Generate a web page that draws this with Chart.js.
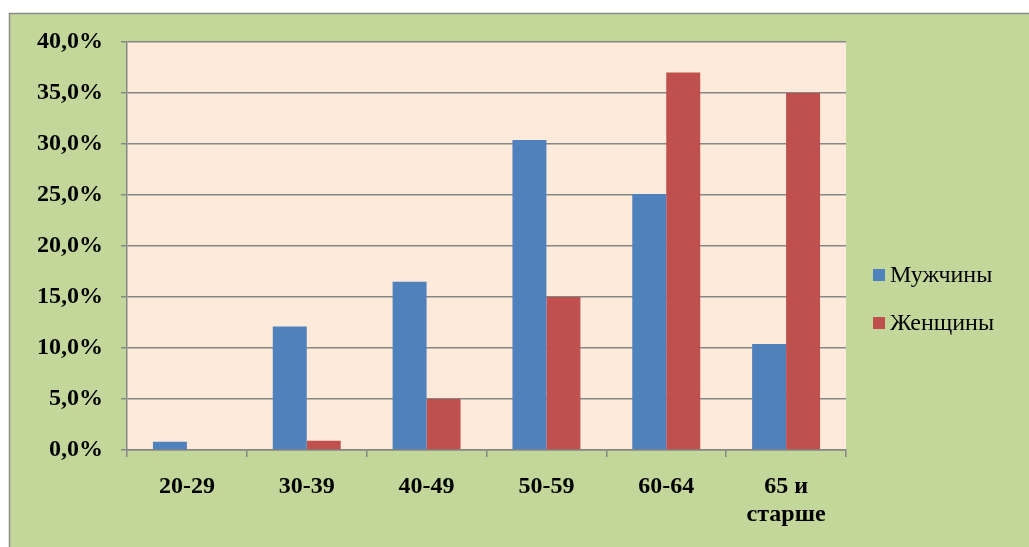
<!DOCTYPE html>
<html>
<head>
<meta charset="utf-8">
<script src="https://cdn.jsdelivr.net/npm/chart.js@4"></script>
<style>
  html, body { margin: 0; padding: 0; background: #ffffff; }
  #wrap { width: 1029px; height: 547px; position: relative; }
</style>
</head>
<body>
<div id="wrap"><canvas id="c" width="1029" height="547"></canvas></div>
<script>
// Age groups and share of each group, percent
const categories = ['20-29', '30-39', '40-49', '50-59', '60-64', ['65 и', 'старше']];
const men   = [0.8, 12.1, 16.5, 30.4, 25.1, 10.4];
const women = [0,   0.9,  5.0,  15.0, 37.0, 35.0];
const seriesNames = ['Мужчины', 'Женщины'];
const yTicks = { min: 0, max: 40, step: 5 };

const BLUE = '#4F81BD';
const RED = '#C0504D';
const GRID = '#868686';
const SERIF = '"Liberation Serif", "Times New Roman", serif';

// Outer green panel and the peach plot area
const backgroundPlugin = {
  id: 'panels',
  beforeDraw(chart) {
    const { ctx, chartArea: a } = chart;
    ctx.save();
    ctx.fillStyle = '#ffffff';
    ctx.fillRect(0, 0, chart.width, chart.height);
    ctx.fillStyle = '#C4D79B';
    ctx.fillRect(9, 13, chart.width, chart.height);
    ctx.strokeStyle = '#8a8a8a';
    ctx.lineWidth = 1.5;
    ctx.beginPath();
    ctx.moveTo(9.5, chart.height + 2);
    ctx.lineTo(9.5, 13.5);
    ctx.lineTo(chart.width + 2, 13.5);
    ctx.stroke();
    ctx.fillStyle = '#FDEADA';
    ctx.fillRect(a.left, a.top, a.right - a.left, a.bottom - a.top);
    ctx.restore();
  }
};

// Legend at the right side of the panel
const legendPlugin = {
  id: 'sideLegend',
  afterDraw(chart) {
    const { ctx } = chart;
    ctx.save();
    ctx.font = '24px ' + SERIF;
    ctx.textBaseline = 'middle';
    chart.data.datasets.forEach((ds, i) => {
      const cy = 275 + i * 48;
      ctx.fillStyle = ds.backgroundColor;
      ctx.fillRect(873, cy - 6, 12, 12);
      ctx.fillStyle = '#000000';
      ctx.fillText(ds.label, 890, cy + 1);
    });
    ctx.restore();
  }
};

new Chart(document.getElementById('c'), {
  type: 'bar',
  data: {
    labels: categories,
    datasets: [
      { label: seriesNames[0], data: men, backgroundColor: BLUE },
      { label: seriesNames[1], data: women, backgroundColor: RED }
    ]
  },
  options: {
    responsive: false,
    animation: false,
    layout: { padding: { left: 0, right: 183, top: 42, bottom: 0 } },
    datasets: { bar: { categoryPercentage: 0.567, barPercentage: 1.0 } },
    plugins: { legend: { display: false }, tooltip: { enabled: false } },
    scales: {
      x: {
        grid: { display: true, drawOnChartArea: false, drawTicks: true, tickLength: 7, color: GRID, lineWidth: 1.5, offset: true },
        border: { display: true, color: GRID, width: 1.5 },
        ticks: { color: '#000', font: { family: SERIF, size: 24, weight: 'bold', lineHeight: 1.2 }, padding: 15, maxRotation: 0, autoSkip: false },
        afterFit(scale) { scale.height = 97; }
      },
      y: {
        min: yTicks.min, max: yTicks.max,
        grid: { color: GRID, lineWidth: 1.5, tickLength: 6 },
        border: { display: true, color: GRID, width: 1.5 },
        ticks: {
          stepSize: yTicks.step,
          color: '#000', padding: 18,
          font: { family: SERIF, size: 24, weight: 'bold' },
          callback: v => v.toFixed(1).replace('.', ',') + '%'
        },
        afterFit(scale) { scale.width = 127; }
      }
    }
  },
  plugins: [backgroundPlugin, legendPlugin]
});
</script>
</body>
</html>
